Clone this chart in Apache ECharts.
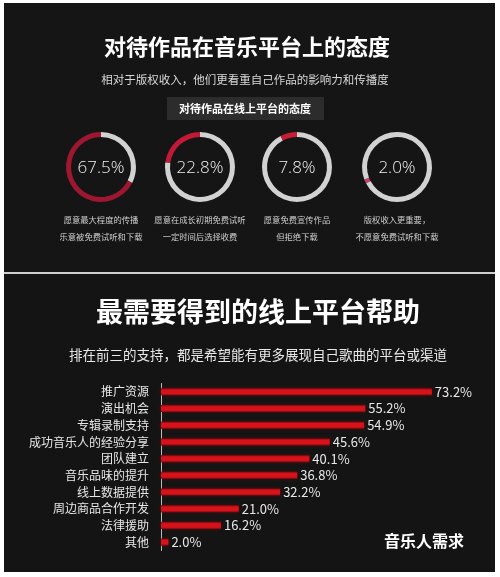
<!DOCTYPE html>
<html><head><meta charset="utf-8">
<script src="https://cdn.jsdelivr.net/npm/echarts@6/dist/echarts.min.js"></script>
<style>html,body{margin:0;padding:0;background:#fff;}#c{width:500px;height:577px;}</style>
</head><body><div id="c"></div>
<script>
const donutValues = [67.5, 22.8, 7.8, 2.0];
const donutCaptions = [
  "愿意最大程度的传播\n乐意被免费试听和下载",
  "愿意在成长初期免费试听\n一定时间后选择收费",
  "愿意免费宣传作品\n但拒绝下载",
  "版权收入更重要，\n不愿意免费试听和下载"
];
const barCategories = ["推广资源","演出机会","专辑录制支持","成功音乐人的经验分享","团队建立","音乐品味的提升","线上数据提供","周边商品合作开发","法律援助","其他"];
const barValues = [73.2, 55.2, 54.9, 45.6, 40.1, 36.8, 32.2, 21.0, 16.2, 2.0];

const FONT = '"Noto Sans CJK SC", "Noto Sans", sans-serif';
const chart = echarts.init(document.getElementById('c'), null, {renderer:'canvas'});

const donutCenters = [101, 200, 297, 397];
const donutRed = ['#9e1731', '#c21a36', '#c81b35', '#c8406a'];
const donutStart = [90, 90, 90, 208];

const series = [];
donutValues.forEach((v, i) => {
  series.push({
    type: 'pie',
    center: [donutCenters[i], 167],
    radius: [30, 35],
    startAngle: donutStart[i],
    clockwise: true,
    silent: true,
    label: {show: false},
    labelLine: {show: false},
    emphasis: {disabled: true},
    data: i === 3
      ? [{value: v, itemStyle: {color: donutRed[i]}}, {value: 100 - v, itemStyle: {color: '#d2d2d2'}}]
      : [{value: 100 - v, itemStyle: {color: '#d2d2d2'}}, {value: v, itemStyle: {color: donutRed[i]}}]
  });
});

series.push({
  type: 'bar',
  xAxisIndex: 0, yAxisIndex: 0,
  data: barValues,
  barWidth: 7,
  itemStyle: {
    color: new echarts.graphic.LinearGradient(0, 0, 0, 1, [
      {offset: 0, color: '#7a0a0e'},
      {offset: 0.25, color: '#d8121a'},
      {offset: 0.75, color: '#d8121a'},
      {offset: 1, color: '#7a0a0e'}
    ]),
    shadowColor: 'rgba(150,0,0,0.6)',
    shadowBlur: 3
  },
  label: {
    show: true,
    position: 'right',
    distance: 3,
    color: '#e8e8e8',
    fontSize: 13,
    fontFamily: FONT,
    formatter: p => p.value.toFixed(1) + '%'
  },
  silent: true
});

const graphics = [
  {type:'rect', shape:{x:4, y:3, width:491, height:269}, style:{fill:'#151515'}, z:-10},
  {type:'rect', shape:{x:4, y:274, width:491, height:298}, style:{fill:'#141414'}, z:-10},
  {type:'rect', shape:{x:4, y:272, width:491, height:2}, style:{fill:'#cfcfcf'}, z:-10},
  {type:'text', x:247, y:47, style:{text:'对待作品在音乐平台上的态度', fill:'#ffffff', font:'bold 22px ' + FONT, align:'center', verticalAlign:'middle'}},
  {type:'text', x:245, y:80, style:{text:'相对于版权收入，他们更看重自己作品的影响力和传播度', fill:'#d8d8d8', font:'11.5px ' + FONT, align:'center', verticalAlign:'middle'}},
  {type:'rect', shape:{x:167, y:97, width:157, height:23}, style:{fill:'#2c2c2c'}},
  {type:'text', x:245, y:108.5, style:{text:'对待作品在线上平台的态度', fill:'#ffffff', font:'bold 11px ' + FONT, align:'center', verticalAlign:'middle'}},
  {type:'text', x:258, y:312, style:{text:'最需要得到的线上平台帮助', fill:'#ffffff', font:'bold 27px ' + FONT, align:'center', verticalAlign:'middle'}},
  {type:'text', x:258, y:355, style:{text:'排在前三的支持，都是希望能有更多展现自己歌曲的平台或渠道', fill:'#e8e8e8', font:'13.5px ' + FONT, align:'center', verticalAlign:'middle'}},
  {type:'text', x:424, y:541, style:{text:'音乐人需求', fill:'#ffffff', font:'bold 16px ' + FONT, align:'center', verticalAlign:'middle'}}
];
donutValues.forEach((v, i) => {
  graphics.push({type:'text', x:donutCenters[i], y:168, style:{text:v.toFixed(1) + '%', fill:'#f0f0f0', font:'300 17px "Open Sans", ' + FONT, align:'center', verticalAlign:'middle'}});
  graphics.push({type:'text', x:donutCenters[i], y:228.5, style:{text:donutCaptions[i], fill:'#d0d0d0', font:'8.3px ' + FONT, align:'center', verticalAlign:'middle', lineHeight:17}});
});

chart.setOption({
  backgroundColor: '#ffffff',
  animation: false,
  graphic: graphics,
  grid: {left:161, top:383.5, width:296, height:167, containLabel:false},
  xAxis: {type:'value', min:0, max:80, show:false},
  yAxis: {
    type:'category', inverse:true, data: barCategories,
    axisLine:{show:true, lineStyle:{color:'#bdbdbd', width:1}},
    axisTick:{show:false},
    axisLabel:{color:'#e6e6e6', fontSize:12, fontFamily:FONT, margin:12, interval:0}
  },
  series: series
});
</script>
</body></html>
